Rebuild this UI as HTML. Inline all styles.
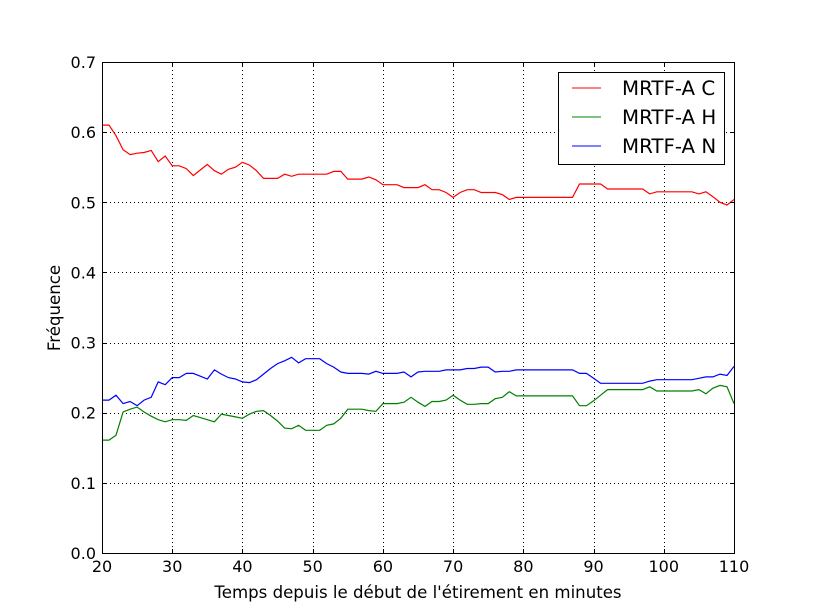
<!DOCTYPE html>
<html><head><meta charset="utf-8"><style>body{margin:0;background:#fff}svg{display:block;font-family:"DejaVu Sans","Liberation Sans",sans-serif}</style></head>
<body>
<svg id="chart" width="815" height="615" viewBox="0 0 815 615" xmlns="http://www.w3.org/2000/svg">
<rect width="815" height="615" fill="#fff"/>
<g id="grid"></g><g id="series"></g><g id="axes"></g>
<g>
<rect x="558.5" y="72.5" width="166" height="92" fill="#fff" stroke="#000" stroke-width="1"/>
<line x1="572" y1="88" x2="601" y2="88" stroke="#ff0000" stroke-width="1"/>
<text x="622" y="95" font-size="19.8">MRTF-A C</text>
<line x1="572" y1="117" x2="601" y2="117" stroke="#008000" stroke-width="1"/>
<text x="622" y="124" font-size="19.8">MRTF-A H</text>
<line x1="572" y1="146" x2="601" y2="146" stroke="#0000ff" stroke-width="1"/>
<text x="622" y="153" font-size="19.8">MRTF-A N</text>
</g>
<text x="418" y="598" font-size="16.6" text-anchor="middle">Temps depuis le début de l'étirement en minutes</text>
<text transform="translate(60,308) rotate(-90)" font-size="16.6" text-anchor="middle">Fréquence</text>
</svg>
<script>
const xTicks=[20,30,40,50,60,70,80,90,100,110];
const yTicks=[0.0,0.1,0.2,0.3,0.4,0.5,0.6,0.7];
const minutes=[];for(let m=20;m<=110;m++)minutes.push(m);
const seriesC=[0.61,0.61,0.595,0.575,0.568,0.57,0.571,0.574,0.558,0.566,0.552,0.552,0.548,0.538,0.546,0.554,0.545,0.54,0.547,0.55,0.557,0.553,0.545,0.534,0.534,0.534,0.54,0.537,0.54,0.54,0.54,0.54,0.54,0.544,0.544,0.533,0.533,0.533,0.536,0.532,0.525,0.525,0.525,0.521,0.521,0.521,0.525,0.518,0.518,0.514,0.507,0.514,0.518,0.518,0.514,0.514,0.514,0.511,0.504,0.507,0.507,0.507,0.507,0.507,0.507,0.507,0.507,0.507,0.526,0.526,0.526,0.526,0.519,0.519,0.519,0.519,0.519,0.519,0.512,0.515,0.515,0.515,0.515,0.515,0.515,0.512,0.515,0.508,0.5,0.496,0.504];
const seriesH=[0.161,0.161,0.168,0.201,0.205,0.208,0.201,0.195,0.19,0.187,0.19,0.19,0.189,0.196,0.193,0.19,0.187,0.198,0.196,0.194,0.192,0.198,0.202,0.203,0.196,0.188,0.178,0.177,0.182,0.175,0.175,0.175,0.182,0.184,0.192,0.205,0.205,0.205,0.203,0.202,0.213,0.213,0.213,0.215,0.222,0.215,0.209,0.216,0.216,0.218,0.225,0.218,0.212,0.212,0.213,0.213,0.22,0.222,0.23,0.224,0.224,0.224,0.224,0.224,0.224,0.224,0.224,0.224,0.21,0.21,0.217,0.225,0.233,0.233,0.233,0.233,0.233,0.233,0.237,0.231,0.231,0.231,0.231,0.231,0.231,0.233,0.227,0.235,0.239,0.237,0.213];
const seriesN=[0.218,0.218,0.225,0.213,0.216,0.21,0.218,0.222,0.244,0.24,0.25,0.25,0.256,0.256,0.252,0.248,0.261,0.255,0.25,0.248,0.244,0.243,0.247,0.255,0.263,0.27,0.274,0.279,0.271,0.277,0.277,0.277,0.27,0.265,0.258,0.256,0.256,0.256,0.255,0.259,0.256,0.256,0.256,0.258,0.251,0.258,0.259,0.259,0.259,0.261,0.261,0.261,0.263,0.263,0.265,0.265,0.258,0.259,0.259,0.261,0.261,0.261,0.261,0.261,0.261,0.261,0.261,0.261,0.256,0.256,0.249,0.242,0.242,0.242,0.242,0.242,0.242,0.242,0.245,0.247,0.247,0.247,0.247,0.247,0.247,0.249,0.251,0.251,0.255,0.253,0.266];
const L=102,R=734,T=62,B=553;
const xs=v=>L+(v-20)/90*(R-L);
const ys=v=>B-v/0.7*(B-T);
const NS="http://www.w3.org/2000/svg";
function mk(tag,attrs,parent){const e=document.createElementNS(NS,tag);for(const k in attrs)e.setAttribute(k,attrs[k]);parent.appendChild(e);return e;}
const grid=document.getElementById('grid'),axes=document.getElementById('axes'),ser=document.getElementById('series');
xTicks.forEach(t=>{const x=Math.round(xs(t))+0.5;
 if(t>20&&t<110){const g=mk('line',{x1:x,y1:T,x2:x,y2:B,stroke:'#000','stroke-dasharray':'1,3','stroke-width':1},grid);}
 mk('line',{x1:x,y1:B,x2:x,y2:B-4,stroke:'#000'},axes);mk('line',{x1:x,y1:T,x2:x,y2:T+4,stroke:'#000'},axes);
 const tx=mk('text',{x:xs(t),y:B+19,'font-size':16,'text-anchor':'middle'},axes);tx.textContent=t;
 });
yTicks.forEach(t=>{const y=Math.round(ys(t))+0.5;
 if(t>0&&t<0.7){const g=mk('line',{x1:L,y1:y,x2:R,y2:y,stroke:'#000','stroke-dasharray':'1,3','stroke-width':1},grid);}
 mk('line',{x1:L,y1:y,x2:L+4,y2:y,stroke:'#000'},axes);mk('line',{x1:R,y1:y,x2:R-4,y2:y,stroke:'#000'},axes);
 const tx=mk('text',{x:L-6,y:ys(t)+6,'font-size':16,'text-anchor':'end'},axes);tx.textContent=t.toFixed(1);
 });
const fr=mk('rect',{x:L+0.5,y:T+0.5,width:R-L,height:B-T,fill:'none',stroke:'#000','stroke-width':1},axes);

[[seriesC,'#ff0000','series-mrtf-a-c'],[seriesH,'#008000','series-mrtf-a-h'],[seriesN,'#0000ff','series-mrtf-a-n']].forEach(([d,c,n])=>{
 const p=mk('polyline',{points:d.map((v,i)=>xs(minutes[i]).toFixed(1)+','+ys(v).toFixed(1)).join(' '),fill:'none',stroke:c,'stroke-width':1.2},ser);
 });
</script>
</body></html>
